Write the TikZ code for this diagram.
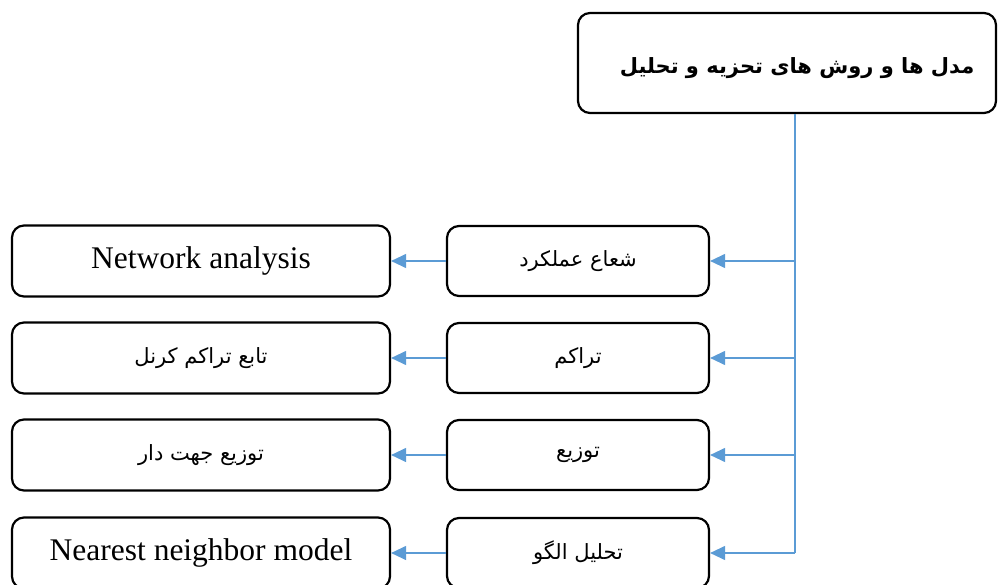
\documentclass[tikz,border=0pt]{standalone}
\usepackage{fontspec}
\setmainfont{Liberation Serif}
\newfontfamily\arabicfont[Script=Arabic]{DejaVu Sans}
\TeXXeTstate=1
\usetikzlibrary{arrows.meta}
\definecolor{linkblue}{HTML}{5B9BD5}
\tikzset{
  boxbase/.style={draw=black, line width=2.2pt, rounded corners=12pt, fill=white, inner sep=0pt, align=center},
  topbox/.style={boxbase, minimum width=418pt, minimum height=100pt},
  midbox/.style={boxbase, minimum width=262pt, minimum height=70pt},
  leftbox/.style={boxbase, minimum width=378pt, minimum height=71pt},
  fa/.style={font=\arabicfont\fontsize{21}{25}\selectfont},
  en/.style={font=\fontsize{31.5}{36}\selectfont},
  arr/.style={draw=linkblue, line width=1.2pt, -{Triangle[length=15pt,width=14pt]}, color=linkblue},
  trunkline/.style={draw=linkblue, line width=1.2pt}
}
\newcommand{\rtl}[1]{\beginR #1\endR}
\begin{document}
\begin{tikzpicture}[x=1pt,y=-1pt]
\useasboundingbox (0,0) rectangle (998,585);
\fill[white] (0,0) rectangle (998,585);
\node[topbox, text height=21pt, text depth=0pt, font=\arabicfont\bfseries\fontsize{21}{25}\selectfont] (top) at (787,63) {\hspace*{20pt}\rtl{مدل ها و روش های تحزیه و تحلیل}};
\node[midbox, fa] (m1) at (578,261) {\rtl{شعاع عملکرد}};
\node[midbox, fa] (m2) at (578,358) {\rtl{تراکم}};
\node[midbox, fa] (m3) at (578,455) {\rtl{توزیع}};
\node[midbox, fa] (m4) at (578,553) {\rtl{تحلیل الگو}};
\node[leftbox, en] (l1) at (201,261) {Network analysis};
\node[leftbox, fa] (l2) at (201,358) {\rtl{تابع تراکم کرنل}};
\node[leftbox, fa] (l3) at (201,455) {\rtl{توزیع جهت دار}};
\node[leftbox, en] (l4) at (201,553) {Nearest neighbor model};
\coordinate (trunk) at (795,0);
\draw[trunkline] (top.south -| trunk) -- (trunk |- m4.east);
\foreach \i in {1,2,3,4}{
  \draw[arr] (trunk |- m\i.east) -- (m\i.east);
  \draw[arr] (m\i.west) -- (l\i.east);
}
\end{tikzpicture}
\end{document}
